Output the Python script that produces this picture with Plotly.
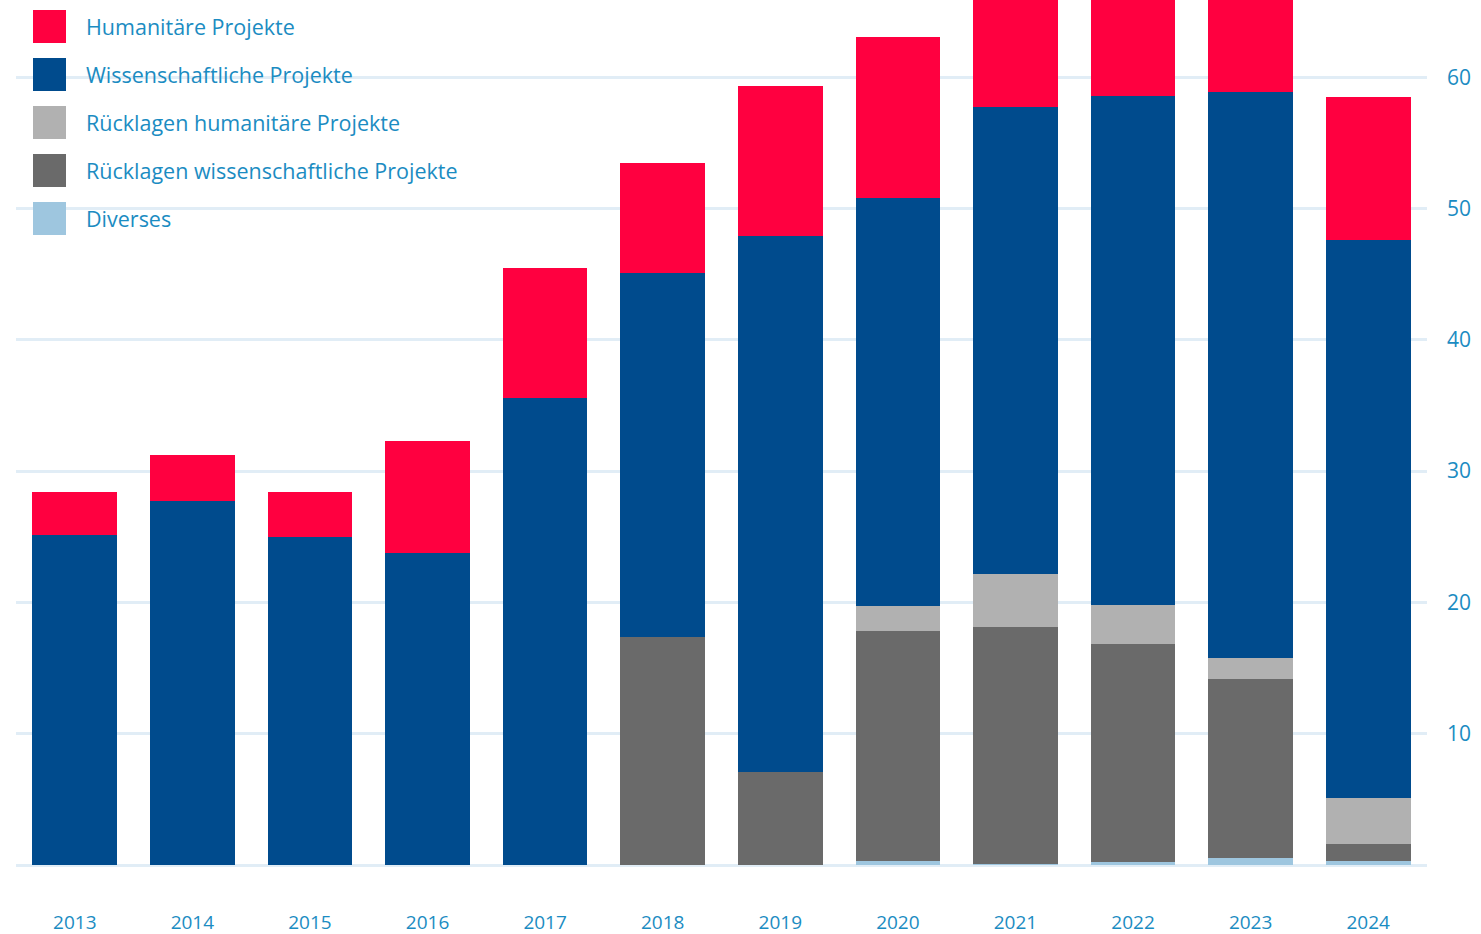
import plotly.graph_objects as go

years = ["2013", "2014", "2015", "2016", "2017", "2018", "2019", "2020", "2021", "2022", "2023", "2024"]
diverses = [0, 0, 0, 0, 0, 0, 0, 0.3, 0.1, 0.25, 0.55, 0.3]
rueck_wiss = [0, 0, 0, 0, 0, 17.4, 7.1, 17.5, 18.0, 16.55, 13.65, 1.3]
rueck_hum = [0, 0, 0, 0, 0, 0, 0, 1.9, 4.1, 3.0, 1.6, 3.5]
wiss = [25.1, 27.7, 25.0, 23.8, 35.6, 27.7, 40.8, 31.1, 35.5, 38.8, 43.1, 42.5]
hum = [3.3, 3.5, 3.4, 8.5, 9.9, 8.4, 11.4, 12.3, 10.0, 10.0, 10.0, 10.9]

y_ticks = [0, 10, 20, 30, 40, 50, 60]
y_ticktext = ["", "10", "20", "30", "40", "50", "60"]

series = [
    ("Diverses", diverses, "#9ec6df"),
    ("Rücklagen wissenschaftliche Projekte", rueck_wiss, "#6a6a6a"),
    ("Rücklagen humanitäre Projekte", rueck_hum, "#b1b1b1"),
    ("Wissenschaftliche Projekte", wiss, "#004b8d"),
    ("Humanitäre Projekte", hum, "#ff0040"),
]

TEXT = "#1b8cc2"
GRID = "#e1edf6"
FONT = "Open Sans"

W, H = 1481, 934
L, R, T, B = 16, 54, 0, 69
PW, PH = W - L - R, H - T - B

fig = go.Figure()
for name, vals, col in series:
    fig.add_trace(go.Bar(x=years, y=vals, name=name, marker=dict(color=col, line=dict(width=0)),
                         showlegend=False))

# custom legend (top-left), order top to bottom
legend_order = list(reversed(series))
shapes, annos = [], []
for i, (name, vals, col) in enumerate(legend_order):
    ytop = 10 + 48 * i
    shapes.append(dict(type="rect", xref="paper", yref="paper",
                       x0=(33 - L) / PW, x1=(66 - L) / PW,
                       y0=(PH - (ytop + 33)) / PH, y1=(PH - ytop) / PH,
                       fillcolor=col, line=dict(width=0), layer="above"))
    annos.append(dict(xref="paper", yref="paper", x=(84 - L) / PW, y=(PH - (ytop + 16.5)) / PH,
                      text=name, showarrow=False, xanchor="left", yanchor="middle",
                      font=dict(family=FONT, size=21.5, color=TEXT)))

fig.update_layout(
    width=W, height=H,
    margin=dict(l=L, r=R, t=T, b=B),
    barmode="stack",
    bargap=0.28,
    plot_bgcolor="white", paper_bgcolor="white",
    shapes=shapes, annotations=annos,
    font=dict(family=FONT, size=19, color=TEXT),
    xaxis=dict(showgrid=False, showline=False, zeroline=False, ticks="",
               ticklabelstandoff=44, tickfont=dict(family=FONT, size=19, color=TEXT)),
    yaxis=dict(side="right", range=[0, 65.88], tickvals=y_ticks, ticktext=y_ticktext,
               showgrid=True, gridcolor=GRID, gridwidth=3,
               zeroline=True, zerolinecolor=GRID, zerolinewidth=3,
               showline=False, ticks="", ticklabelstandoff=19,
               tickfont=dict(family=FONT, size=21, color=TEXT)),
)

fig.write_html("out.html")
